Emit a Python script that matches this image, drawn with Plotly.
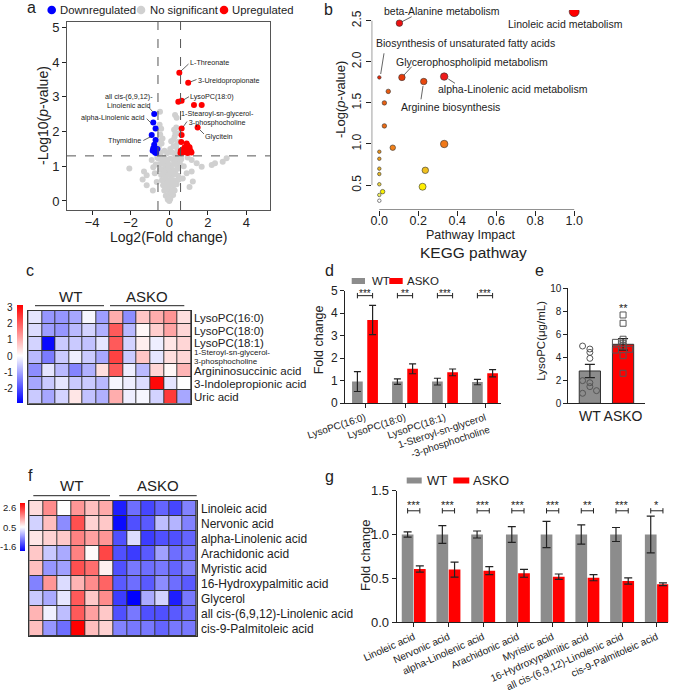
import plotly.graph_objects as go

W, H = 676, 700
FONT = "Liberation Sans, Arial, Helvetica, sans-serif"
TXT = "#222222"

def fx(x):
    return x / W

def fy(y):
    return 1 - y / H

# ---------------- DATA ----------------
# a: volcano plot
gray_x = [-0.48, 0.30, 0.38, -0.50, -0.42, 0.25, 0.36, -0.47, 0.20, 0.10, -0.40, 0.36, 0.28, -0.35, 0.45,
          -0.55, -0.25, 0.05, 0.15, 0.30, -0.45, 0.42, -0.10, 0.50, -0.52, 0.32, 0.22,
          -2.07, -1.31, -1.17, -1.38, -0.91, -0.83, -1.17, 1.16, 1.42, 1.68, 2.20, 2.37, 2.77, 2.97, 1.22,
          0.90, 1.16, -0.70, -0.75, 0.75, 0.70, -0.65, 0.95, 1.05, -0.85, 0.62, -0.62,
          -0.55, -0.40, -0.25, -0.10, 0.05, 0.20, 0.35, 0.50,
          -0.50, -0.35, -0.20, -0.05, 0.10, 0.25, 0.40, 0.55,
          -0.45, -0.30, -0.15, 0.00, 0.15, 0.30, 0.45,
          -0.42, -0.28, -0.12, 0.02, 0.18, 0.32, 0.46,
          -0.38, -0.22, -0.08, 0.06, 0.20, 0.35, 0.50,
          -0.32, -0.18, -0.04, 0.10, 0.24, 0.38,
          -0.26, -0.12, 0.02, 0.15, 0.28,
          -0.18, -0.05, 0.08, 0.20,
          -0.08, 0.05, 0.00,
          -0.30, 0.28, -0.05, 0.12, -0.20, 0.28, -0.10, 0.08]
gray_y = [2.57, 2.48, 2.40, 2.20, 2.08, 2.05, 2.12, 1.92, 1.76, 1.72, 1.66, 1.60, 1.85, 1.80, 1.70,
          1.55, 1.45, 1.50, 1.40, 1.35, 1.40, 1.48, 1.38, 1.95, 1.72, 1.95, 1.58,
          0.94, 0.85, 0.74, 0.62, 1.18, 0.97, 0.45, 1.18, 1.09, 0.99, 1.04, 1.09, 1.13, 1.23, 0.56,
          0.80, 0.85, 1.05, 0.80, 1.00, 0.65, 0.55, 1.25, 0.40, 0.30, 1.20, 1.25,
          1.22, 1.20, 1.25, 1.18, 1.22, 1.20, 1.25, 1.18,
          1.05, 1.08, 1.02, 1.06, 1.03, 1.07, 1.02, 1.08,
          0.90, 0.92, 0.88, 0.92, 0.90, 0.88, 0.93,
          0.75, 0.78, 0.74, 0.77, 0.75, 0.78, 0.73,
          0.60, 0.62, 0.58, 0.62, 0.60, 0.58, 0.62,
          0.45, 0.48, 0.44, 0.47, 0.45, 0.48,
          0.30, 0.33, 0.29, 0.32, 0.30,
          0.15, 0.18, 0.14, 0.17,
          0.04, 0.06, 0.00,
          1.15, 1.12, 0.98, 0.82, 0.68, 0.52, 0.38, 0.23]
down_x = [-0.78, -0.83, -0.71, -0.91, -0.71, -0.83, -0.78, -0.86, -0.74, -0.62, -0.68]
down_y = [2.51, 2.26, 2.09, 1.90, 1.76, 1.52, 1.62, 1.45, 1.40, 1.50, 1.38]
up_x = [0.52, 0.98, 0.47, 0.64, 1.28, 1.68, 1.47, 0.64, 0.64, 0.90, 0.62, 0.95, 1.05, 0.75, 0.60,
        0.85, 1.10, 0.70, 0.95, 1.15, 0.58, 1.00, 0.80]
up_y = [3.70, 3.41, 2.86, 2.89, 2.77, 2.77, 2.12, 2.09, 1.90, 1.66, 1.70, 1.60, 1.55, 1.50, 1.45,
        1.42, 1.45, 1.40, 1.38, 1.40, 1.38, 1.48, 1.55]

# b: KEGG pathway bubble plot
kegg_impact = [1.0, 0.103, 0.0, 0.116, 0.333, 0.228, 0.046, 0.026, 0.026, 0.069, 0.333,
               0.0, 0.0, 0.0, 0.0, 0.236, 0.222, 0.0, 0.017, 0.0, 0.0]
kegg_logp = [2.61, 2.47, 1.81, 1.81, 1.82, 1.76, 1.64, 1.50, 1.22, 0.955, 1.00,
             0.906, 0.82, 0.70, 0.635, 0.68, 0.48, 0.51, 0.42, 0.38, 0.31]
kegg_size = [10, 6.5, 3.5, 6.5, 7.5, 6.5, 4.5, 4.5, 4.5, 5.5, 7.5,
             3.5, 3.5, 3.5, 3.5, 6.5, 7, 3.5, 4.5, 3.5, 3.5]
kegg_color = ['#ff0000', '#ee1010', '#e82a0a', '#e63a0a', '#ee1a1a', '#e8480e', '#e85a10', '#e86012',
              '#ea6a14', '#f0801a', '#f07818', '#e8901a', '#e8981c', '#e8b020', '#e8b822', '#f0c020',
              '#ffee00', '#f0d840', '#f8f000', '#f0f060', '#ffffff']

# c: heatmap
c_rows = ["LysoPC(16:0)", "LysoPC(18:0)", "LysoPC(18:1)", "1-Steroyl-sn-glycerol-3-phosphocholine",
          "Argininosuccinic acid", "3-Indolepropionic acid", "Uric acid"]
c_vals = [
    [-0.3, -1.2, -1.2, -1.0, -0.1, -1.1, 1.0, -1.3, 0.7, 1.0, 1.3, 0.4],
    [-0.4, -1.1, -1.2, -0.8, -0.5, -0.9, 2.0, -0.8, 0.1, 0.6, 1.1, 0.5],
    [-0.5, -2.8, -0.6, -0.6, -0.7, -0.3, 2.0, -0.5, 0.2, -0.2, 0.3, 0.5],
    [-0.8, -1.5, -0.6, -0.2, -0.6, -1.0, 2.3, -0.6, 0.7, -0.3, 0.4, 0.5],
    [-1.3, -0.3, -0.8, -1.4, -0.9, 0.4, 2.0, -0.2, -0.8, 0.5, 0.1, 0.9],
    [-1.0, -0.6, -0.3, -0.6, -0.6, -0.8, -0.1, -0.2, -0.4, 3.0, -0.3, 0.0],
    [-0.6, -1.0, -0.5, 0.3, -0.7, -0.9, 1.0, -0.2, -0.1, -0.5, 2.4, -1.0],
]
c_ticks = ["3", "2", "1", "0", "-1", "-2"]

# d: LysoPC fold change
d_cats = ["LysoPC(16:0)", "LysoPC(18:0)", "LysoPC(18:1)", "1-Steroyl-sn-glycerol<br>-3-phosphocholine"]
d_wt = [0.96, 0.96, 0.96, 0.94]
d_wt_err = [0.44, 0.12, 0.15, 0.12]
d_ko = [3.70, 1.53, 1.37, 1.33]
d_ko_err = [0.65, 0.22, 0.15, 0.16]
d_sig = ["***", "**", "***", "***"]

# e: LysoPC concentration
e_groups = ["WT", "ASKO"]
e_means = [2.81, 5.13]
e_err = [0.57, 0.50]
e_wt_pts = [4.98, 4.72, 4.43, 3.91, 1.97, 1.79, 1.45, 1.10, 0.87]
e_ko_pts = [7.68, 6.96, 5.57, 5.30, 5.22, 4.98, 4.70, 4.63, 4.14, 2.61]

# f: heatmap
f_rows = ["Linoleic acid", "Nervonic acid", "alpha-Linolenic acid", "Arachidonic acid", "Myristic acid",
          "16-Hydroxypalmitic acid", "Glycerol", "all cis-(6,9,12)-Linolenic acid", "cis-9-Palmitoleic acid"]
f_vals = [
    [0.8, 1.6, 0.45, 1.5, 1.1, 1.3, -1.8, -1.0, -1.4, -1.1, -1.4, -0.8],
    [0.0, 1.1, -0.7, 2.2, 0.9, 1.0, -2.0, -1.3, -1.2, -0.2, -0.3, -0.8],
    [0.7, 0.9, 1.0, 1.7, 1.4, 1.5, -1.3, 0.1, -1.5, -1.3, -1.3, -1.1],
    [1.0, -0.1, -0.4, 1.7, 0.5, 2.3, -1.3, -1.5, -1.2, -0.5, -1.0, -0.9],
    [1.1, -0.6, -0.5, 2.2, 1.9, 0.6, -1.3, -0.9, -1.0, -0.9, -1.1, -0.8],
    [-0.8, 1.5, 0.1, 1.2, 1.6, 2.0, -1.2, -1.0, -1.2, -0.7, -1.0, -1.2],
    [-0.1, -0.4, 0.2, 2.1, 1.0, 1.6, -1.5, -2.1, -0.4, 0.0, -1.8, -0.9],
    [1.2, 0.3, -0.2, 2.1, 1.4, 1.0, -1.3, -0.9, -1.3, -1.3, -1.2, -1.0],
    [1.1, -0.6, -1.0, 3.0, 1.1, 0.9, -0.8, -0.9, -0.9, -1.1, -0.9, -0.9],
]
f_ticks = ["2.6", "0.5", "-1.6"]

# g: fatty acid fold change
g_cats = ["Linoleic acid", "Nervonic acid", "alpha-Linolenic acid", "Arachidonic acid", "Myristic acid",
          "16-Hydroxypalmitic acid", "all cis-(6,9,12)-Linolenic acid", "cis-9-Palmitoleic acid"]
g_wt = [1.0, 1.0, 1.0, 1.0, 1.0, 1.0, 1.0, 1.0]
g_wt_err = [0.03, 0.10, 0.04, 0.09, 0.15, 0.11, 0.08, 0.21]
g_ko = [0.607, 0.60, 0.588, 0.558, 0.52, 0.508, 0.47, 0.433]
g_ko_err = [0.035, 0.085, 0.045, 0.045, 0.03, 0.035, 0.035, 0.015]
g_sig = ["***", "***", "***", "***", "***", "**", "***", "*"]

# ---------------- helpers ----------------
annotations = []
shapes = []

def text(t, x, y, size, xa='center', ya='middle', angle=0, color=TXT, xref='paper', yref='paper', yshift=0):
    if xref == 'paper':
        x = fx(x)
    if yref == 'paper':
        y = fy(y)
    annotations.append(dict(text=t, x=x, y=y, xref=xref, yref=yref, xanchor=xa, yanchor=ya,
                            textangle=angle, showarrow=False, yshift=yshift, borderpad=0,
                            font=dict(size=size, color=color, family=FONT)))

def pline(x0, y0, x1, y1, color=TXT, width=1, dash=None):
    shapes.append(dict(type='line', xref='paper', yref='paper', x0=fx(x0), y0=fy(y0), x1=fx(x1), y1=fy(y1),
                       line=dict(color=color, width=width, dash=dash)))

def prect(x0, y0, x1, y1, color):
    shapes.append(dict(type='rect', xref='paper', yref='paper', x0=fx(x0), y0=fy(y1), x1=fx(x1), y1=fy(y0),
                       fillcolor=color, line=dict(width=0)))

def pcircle(cx, cy, r, color):
    shapes.append(dict(type='circle', xref='paper', yref='paper', x0=fx(cx - r), x1=fx(cx + r),
                       y0=fy(cy + r), y1=fy(cy - r), fillcolor=color, line=dict(width=0)))

def dx(l, r):
    return [fx(l), fx(r)]

def dy(top, bottom):
    return [fy(bottom), fy(top)]

GRAY = '#8c8c8c'
RED = '#ff0000'

fig = go.Figure()

# ---------------- a ----------------
fig.add_trace(go.Scatter(x=gray_x, y=gray_y, mode='markers', marker=dict(color='#d0d0d0', size=6, opacity=1),
                         xaxis='x', yaxis='y'))
fig.add_trace(go.Scatter(x=down_x, y=down_y, mode='markers', marker=dict(color='#0000ff', size=6, opacity=1),
                         xaxis='x', yaxis='y'))
fig.add_trace(go.Scatter(x=up_x, y=up_y, mode='markers', marker=dict(color=RED, size=6, opacity=1),
                         xaxis='x', yaxis='y'))
for xv in (-0.585, 0.585):
    shapes.append(dict(type='line', xref='x', yref='y domain', x0=xv, x1=xv, y0=0, y1=1,
                       line=dict(color='#555', width=1, dash='dash')))
shapes.append(dict(type='line', xref='x domain', yref='y', x0=0, x1=1, y0=1.3, y1=1.3,
                   line=dict(color='#555', width=1, dash='dash')))

# legend a
pcircle(51.7, 10, 4.3, '#0000ff'); text("Downregulated", 59, 10, 11.3, xa='left')
pcircle(141, 10, 4.3, '#d0d0d0'); text("No significant", 148.5, 10, 11.3, xa='left')
pcircle(224, 10, 4.3, RED); text("Upregulated", 231, 10, 11.3, xa='left')
text("a", 31, 7, 16)
text("-Log10(<i>p</i>-value)", 43, 116, 14, angle=-90)
text("Log2(Fold change)", 169, 237, 14)

# volcano labels
vl = 7.2
text("L-Threonate", 189, 63, vl, xa='left'); pline(181, 71, 188.5, 64, width=0.7)
text("3-Ureidopropionate", 196.5, 80, vl, xa='left'); pline(191, 81.7, 196.5, 79.5, width=0.7)
text("LysoPC(18:0)", 189, 96.7, vl, xa='left'); pline(183.3, 100, 189, 96.7, width=0.7)
text("1-Stearoyl-sn-glycerol-<br>3-phosphocholine", 217.5, 118, vl); pline(183.3, 126.7, 187, 121.5, width=0.7)
text("Glycitein", 204, 136, vl, xa='left'); pline(200, 130, 204, 134, width=0.7)
text("all cis-(6,9,12)-<br>Linolenic acid", 129, 100.5, vl); pline(152.7, 111.7, 148.5, 107, width=0.7)
text("alpha-Linolenic acid", 146, 117.3, vl, xa='right'); pline(150.7, 122.7, 146.7, 118.7, width=0.7)
text("Thymidine", 142, 140.7, vl, xa='right'); pline(150.7, 136.7, 143.3, 140.5, width=0.7)

# ---------------- b ----------------
fig.add_trace(go.Scatter(x=kegg_impact, y=kegg_logp, mode='markers',
                         marker=dict(color=kegg_color, size=kegg_size, opacity=1,
                                     line=dict(color='#333', width=0.6)),
                         xaxis='x2', yaxis='y2'))
B_XMIN, B_YMIN = -0.039, 0.197
shapes.append(dict(type='line', xref='x2', yref='y2', x0=0, x1=1, y0=B_YMIN, y1=B_YMIN,
                   line=dict(color=TXT, width=1)))
shapes.append(dict(type='line', xref='x2', yref='y2', x0=B_XMIN, x1=B_XMIN, y0=0.5, y1=2.5,
                   line=dict(color=TXT, width=1)))
text("b", 328, 9, 16)
bl = 10.5
text("beta-Alanine metabolism", 441.7, 10.7, bl); pline(402, 21.7, 411.7, 16.7, width=0.7)
text("Linoleic acid metabolism", 565.7, 24, bl)
text("Biosynthesis of unsaturated fatty acids", 465.7, 43.3, bl); pline(380.7, 74, 384, 53.3, width=0.7)
text("Glycerophospholipid metabolism", 471.7, 62, bl); pline(404, 75, 411.7, 66.7, width=0.7)
text("alpha-Linolenic acid metabolism", 512.7, 89, bl); pline(448.3, 79, 455, 83.3, width=0.7)
text("Arginine biosynthesis", 450, 106.7, bl); pline(423, 86, 421, 99.3, width=0.7)
text("-Log(<i>p</i>-value)", 341, 100, 13, angle=-90)
text("Pathway Impact", 471, 235, 12.5)
text("KEGG pathway", 473, 252.5, 15.5)

# ---------------- c ----------------
cs_c = [[0, '#0000ff'], [0.483, '#ffffff'], [1, '#ff0000']]
fig.add_trace(go.Heatmap(z=c_vals, x=list(range(12)), y=list(range(len(c_rows))), colorscale=cs_c,
                         zmin=-2.9, zmax=3.1, xgap=1, ygap=1, xaxis='x3', yaxis='y3',
                         colorbar=dict(thickness=6, thicknessmode='pixels', len=(403.3 - 305.7) / H,
                                       lenmode='fraction', x=fx(16.7), xanchor='left', y=fy(403.3),
                                       yanchor='bottom', xpad=0, ypad=0, outlinewidth=0,
                                       showticklabels=False, ticks='')))
shapes.append(dict(type='rect', xref='x3 domain', yref='y3 domain', x0=0, x1=1, y0=0, y1=1,
                   fillcolor='#333', line=dict(width=0), layer='below'))
for i, t in enumerate(c_ticks):
    text(t, 13.5, 307.3 + 16.3 * i, 10, xa='right')
text("c", 30, 270, 16)
text("WT", 70.7, 296.7, 15); pline(35, 305.7, 104, 305.7)
text("ASKO", 147.3, 296.7, 15); pline(110, 305.7, 184.3, 305.7)
c_label_y = [317.6, 330.8, 342.6, None, 370.6, 383.6, 396.8]
for i, name in enumerate(c_rows):
    if i == 3:
        text("1-Steroyl-sn-glycerol-", 193, 352.8, 8, xa='left')
        text("3-phosphocholine", 193, 361.2, 8, xa='left')
    else:
        text(name, 193, c_label_y[i], 11.5, xa='left')

# ---------------- d ----------------
d_idx = list(range(len(d_cats)))
fig.add_trace(go.Bar(x=[i - 0.19 for i in d_idx], y=d_wt, width=0.267, marker=dict(color=GRAY, line=dict(width=0)),
                     error_y=dict(type='data', array=d_wt_err, color='#222', thickness=1.2, width=3.5),
                     xaxis='x4', yaxis='y4'))
fig.add_trace(go.Bar(x=[i + 0.19 for i in d_idx], y=d_ko, width=0.267, marker=dict(color=RED, line=dict(width=0)),
                     error_y=dict(type='data', array=d_ko_err, color='#222', thickness=1.2, width=3.5),
                     xaxis='x4', yaxis='y4'))
for i, s in enumerate(d_sig):
    yb = 4.78
    shapes.append(dict(type='line', xref='x4', yref='y4', x0=i - 0.19, x1=i + 0.19, y0=yb, y1=yb,
                       line=dict(color=TXT, width=1)))
    for xe in (i - 0.19, i + 0.19):
        shapes.append(dict(type='line', xref='x4', yref='y4', x0=xe, x1=xe, y0=yb - 0.12, y1=yb + 0.12,
                           line=dict(color=TXT, width=1)))
    text(s, i, yb, 10, xref='x4', yref='y4', yshift=2)
text("d", 329, 270, 16)
prect(351.7, 278, 365, 284, GRAY); text("WT", 370.5, 281, 11.5, xa='left')
prect(389.3, 278, 402.7, 284, RED); text("ASKO", 406, 281, 11.5, xa='left')
text("Fold change", 319.3, 340, 12.5, angle=-90)

# ---------------- e ----------------
fig.add_trace(go.Bar(x=[0, 1], y=e_means, width=0.64,
                     marker=dict(color=[GRAY, RED], line=dict(color='#333', width=1)),
                     error_y=dict(type='data', array=e_err, color='#222', thickness=1.2, width=5),
                     xaxis='x5', yaxis='y5'))
e_wt_jit = [-0.22, 0, 0, 0, -0.22, 0, 0, 0.2, -0.22]
e_ko_jit = [0, 0, 0, -0.23, 0, 0, 0.2, -0.23, 0, 0]
fig.add_trace(go.Scatter(x=[0 + j for j in e_wt_jit], y=e_wt_pts, mode='markers',
                         marker=dict(symbol='circle-open', size=6, color='#555', line=dict(width=1)),
                         xaxis='x5', yaxis='y5'))
fig.add_trace(go.Scatter(x=[1 + j for j in e_ko_jit], y=e_ko_pts, mode='markers',
                         marker=dict(symbol='square-open', size=6, color='#555', line=dict(width=1)),
                         xaxis='x5', yaxis='y5'))
text("**", 1, 8.3, 11, xref='x5', yref='y5')
text("e", 539, 270, 16)
text("LysoPC(μg/mL)", 540.7, 341, 11.5, angle=-90)

# ---------------- f ----------------
cs_f = [[0, '#0000ff'], [0.5, '#ffffff'], [1, '#ff0000']]
fig.add_trace(go.Heatmap(z=f_vals, x=list(range(12)), y=list(range(len(f_rows))), colorscale=cs_f,
                         zmin=-2.1, zmax=3.0, xgap=1, ygap=1, xaxis='x6', yaxis='y6',
                         colorbar=dict(thickness=5, thicknessmode='pixels', len=(551 - 503.3) / H,
                                       lenmode='fraction', x=fx(20), xanchor='left', y=fy(551),
                                       yanchor='bottom', xpad=0, ypad=0, outlinewidth=0,
                                       showticklabels=False, ticks='')))
shapes.append(dict(type='rect', xref='x6 domain', yref='y6 domain', x0=0, x1=1, y0=0, y1=1,
                   fillcolor='#333', line=dict(width=0), layer='below'))
for t, yy in zip(f_ticks, [507.3, 527.7, 546]):
    text(t, 16.5, yy, 9.5, xa='right')
text("f", 30, 475, 16)
text("WT", 71.7, 485, 15); pline(33.3, 495.7, 110, 495.7)
text("ASKO", 158.3, 485, 15); pline(119.3, 495.7, 196.7, 495.7)
for i, name in enumerate(f_rows):
    text(name, 200, 501 + 15 * (i + 0.5), 12, xa='left')

# ---------------- g ----------------
g_idx = list(range(len(g_cats)))
fig.add_trace(go.Bar(x=[i - 0.176 for i in g_idx], y=g_wt, width=0.337, marker=dict(color=GRAY, line=dict(width=0)),
                     error_y=dict(type='data', array=g_wt_err, color='#222', thickness=1.2, width=4),
                     xaxis='x7', yaxis='y7'))
fig.add_trace(go.Bar(x=[i + 0.176 for i in g_idx], y=g_ko, width=0.337, marker=dict(color=RED, line=dict(width=0)),
                     error_y=dict(type='data', array=g_ko_err, color='#222', thickness=1.2, width=4),
                     xaxis='x7', yaxis='y7'))
for i, s in enumerate(g_sig):
    yb = 1.27
    shapes.append(dict(type='line', xref='x7', yref='y7', x0=i - 0.176, x1=i + 0.176, y0=yb, y1=yb,
                       line=dict(color=TXT, width=1)))
    for xe in (i - 0.176, i + 0.176):
        shapes.append(dict(type='line', xref='x7', yref='y7', x0=xe, x1=xe, y0=yb - 0.03, y1=yb + 0.03,
                           line=dict(color=TXT, width=1)))
    text(s, i, yb, 11, xref='x7', yref='y7', yshift=6)
text("g", 329, 476, 16)
prect(406.7, 477.5, 421.7, 483.5, GRAY); text("WT", 426, 480.7, 13, xa='left')
prect(453.3, 477.5, 469.3, 483.5, RED); text("ASKO", 472, 480.7, 13, xa='left')
text("Fold change", 365, 555, 13, angle=-90)

# ---------------- layout ----------------
def lin_axis(**kw):
    base = dict(showgrid=False, zeroline=False, ticks='outside', ticklen=4, tickcolor=TXT, automargin=False,
                linecolor=TXT, linewidth=1, tickfont=dict(family=FONT, color=TXT, size=12))
    base.update(kw)
    return base

def hm_axis(**kw):
    base = dict(showgrid=False, zeroline=False, showticklabels=False, ticks='', showline=True, mirror=True,
                linecolor='#333', automargin=False)
    base.update(kw)
    return base

layout = dict(
    width=W, height=H, margin=dict(l=0, r=0, t=0, b=0, autoexpand=False), showlegend=False,
    paper_bgcolor='white', plot_bgcolor='white', barmode='overlay',
    font=dict(family=FONT, color=TXT),
    # a
    xaxis=lin_axis(domain=dx(67, 270), anchor='y', range=[-5.3, 5.22], tickvals=[-4, -2, 0, 2, 4],
                   showline=True, mirror=True, linecolor='#555', ticklabelstandoff=-4,
                   tickfont=dict(family=FONT, size=13, color=TXT)),
    yaxis=lin_axis(domain=dy(22, 210), anchor='x', range=[-0.26, 5.16], tickvals=[0, 1, 2, 3, 4, 5],
                   showline=True, mirror=True, linecolor='#555', tickfont=dict(family=FONT, size=13, color=TXT)),
    # b
    xaxis2=lin_axis(domain=dx(371.7, 582), anchor='y2', range=[B_XMIN, 1.04],
                    tickvals=[0, 0.2, 0.4, 0.6, 0.8, 1.0], ticktext=["0.0", "0.2", "0.4", "0.6", "0.8", "1.0"],
                    showline=False, ticklen=5, tickangle=0, ticklabelstandoff=-6,
                    tickfont=dict(family=FONT, size=12.5, color=TXT)),
    yaxis2=lin_axis(domain=dy(10, 210), anchor='x2', range=[B_YMIN, 2.63],
                    tickvals=[0.5, 1.0, 1.5, 2.0, 2.5], ticktext=["0.5", "1.0", "1.5", "2.0", "2.5"],
                    tickangle=-90, showline=False, ticklen=5, tickfont=dict(family=FONT, size=12, color=TXT)),
    # c
    xaxis3=hm_axis(domain=dx(28.3, 191), anchor='y3', range=[-0.5, 11.5]),
    yaxis3=hm_axis(domain=dy(311, 403.7), anchor='x3', range=[6.5, -0.5]),
    # d
    xaxis4=lin_axis(domain=dx(345, 501), anchor='y4', range=[-0.5, 3.4], tickvals=d_idx, ticktext=d_cats,
                    tickangle=-18, showline=True, tickfont=dict(family=FONT, size=10, color=TXT)),
    yaxis4=lin_axis(domain=dy(290.7, 403.2), anchor='x4', range=[0, 5], tickvals=[0, 1, 2, 3, 4, 5],
                    showline=True, tickfont=dict(family=FONT, size=12, color=TXT)),
    # e
    xaxis5=lin_axis(domain=dx(568.3, 645.3), anchor='y5', range=[-0.65, 1.67], tickvals=[0, 1],
                    ticktext=e_groups, showline=True, ticks='', tickangle=0,
                    tickfont=dict(family=FONT, size=14, color=TXT)),
    yaxis5=lin_axis(domain=dy(288.3, 403.3), anchor='x5', range=[0, 10], tickvals=[0, 2, 4, 6, 8, 10],
                    showline=True, tickfont=dict(family=FONT, size=10, color=TXT)),
    # f
    xaxis6=hm_axis(domain=dx(29.3, 196.7), anchor='y6', range=[-0.5, 11.5]),
    yaxis6=hm_axis(domain=dy(501, 636), anchor='x6', range=[8.5, -0.5]),
    # g
    xaxis7=lin_axis(domain=dx(396.7, 668.3), anchor='y7', range=[-0.49, 7.33], tickvals=g_idx, ticktext=g_cats,
                    tickangle=-24, showline=True, tickfont=dict(family=FONT, size=10, color=TXT)),
    yaxis7=lin_axis(domain=dy(490.6, 622.3), anchor='x7', range=[0, 1.5], tickvals=[0, 0.5, 1.0, 1.5],
                    ticktext=["0.0", "0.5", "1.0", "1.5"], showline=True,
                    tickfont=dict(family=FONT, size=13, color=TXT)),
    annotations=annotations, shapes=shapes,
)
fig.update_layout(**layout)
fig.update_traces(hoverinfo='skip')
fig.write_html("out.html", config={'displayModeBar': False, 'staticPlot': True},
               post_script="document.body.style.margin='0';document.body.style.overflow='hidden';")
